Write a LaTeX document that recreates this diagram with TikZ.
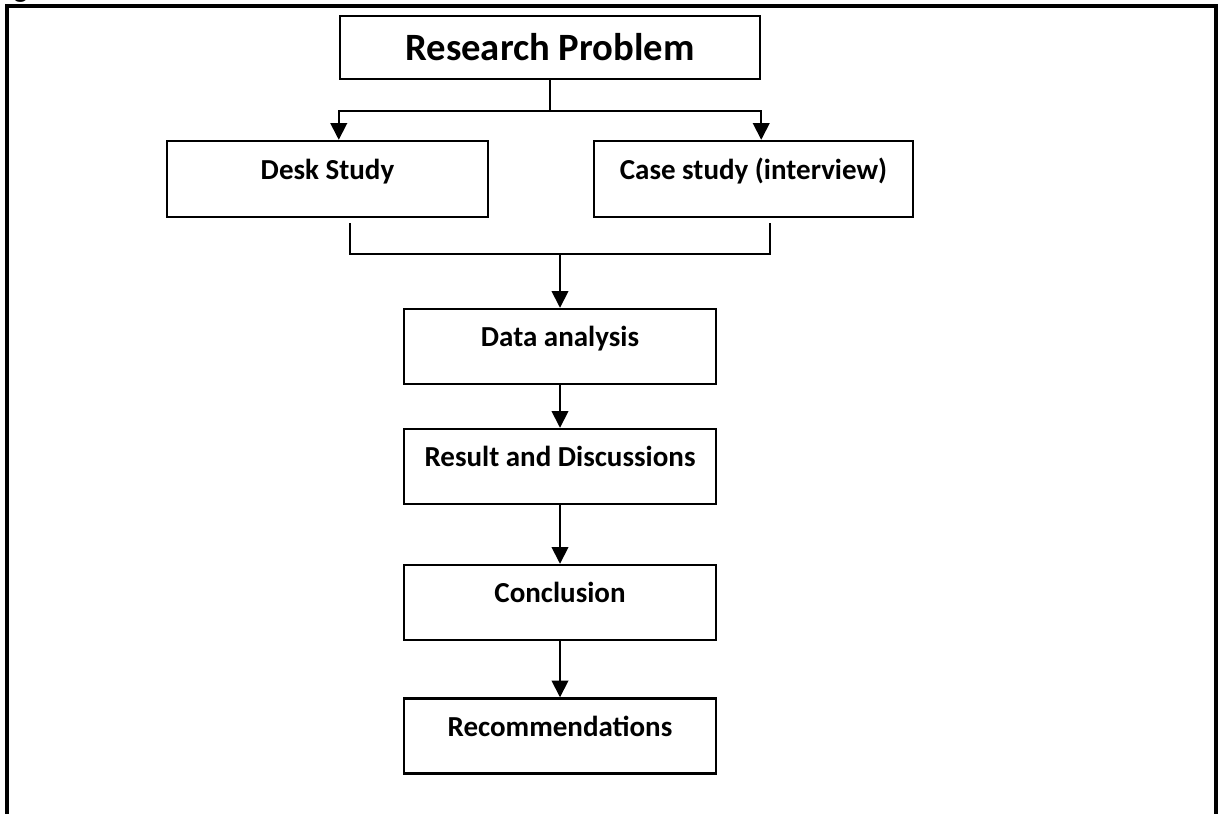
\documentclass[tikz,border=0pt]{standalone}
\usepackage{fontspec}
\setmainfont{Carlito}
\usetikzlibrary{positioning, arrows.meta, calc}

\begin{document}
\begin{tikzpicture}[node distance=2.4cm, on grid, line width=1pt,
    box/.style={draw, line width=1.4pt, minimum width=6.24cm, minimum height=1.5cm,
        text height=1.2ex, text depth=1.2ex, font=\fontsize{16.5}{19}\selectfont\bfseries},
    arr/.style={-{Triangle[width=9.5pt, length=9.5pt]}}]
    \useasboundingbox (0,0) rectangle (24.42,-16.28);

    % page frame, open at the bottom
    \draw[line width=1.8pt] (0.14,-16.5) -- (0.14,-0.12) -- (24.32,-0.12) -- (24.32,-16.5);
    \node[anchor=base west, inner sep=0, font=\fontsize{16.5}{19}\selectfont\bfseries] (fig) at (0.26,0.04) {g};

    \node[box, minimum width=8.4cm, minimum height=1.26cm, text height=, text depth=,
        font=\fontsize{22}{26}\selectfont\bfseries] (rp) at (11.0,-0.95) {Research Problem};
    \node[box, minimum width=6.42cm, minimum height=1.52cm] (desk) at (6.55,-3.58) {Desk Study};
    \node[box, minimum width=6.38cm, minimum height=1.52cm] (case) at (15.07,-3.58) {Case study (interview)};
    \node[box] (da) at (11.2,-6.93) {Data analysis};
    \node[box] (res) [below=2.4cm of da] {Result and Discussions};
    \node[box] (con) [below=2.72cm of res] {Conclusion};
    \node[box] (rec) [below=2.67cm of con] {Recommendations};

    \coordinate (jn) at ($(rp.south)+(0,-0.62)$);
    \coordinate (bl) at (7.0,-4.46);
    \coordinate (br) at (15.4,-4.46);
    \coordinate (mg) at ($(da.north)+(0,1.08)$);

    \draw (rp) -- (jn);
    \draw[arr] (jn) -| (rp.west |- desk.north);
    \draw[arr] (jn) -| (rp.east |- case.north);
    \draw (bl) |- (mg) -| (br);
    \draw[arr] (mg) -- (da);
    \draw[arr] (da) -- (res);
    \draw[arr] (res) -- (con);
    \draw[arr] (con) -- (rec);
\end{tikzpicture}
\end{document}
